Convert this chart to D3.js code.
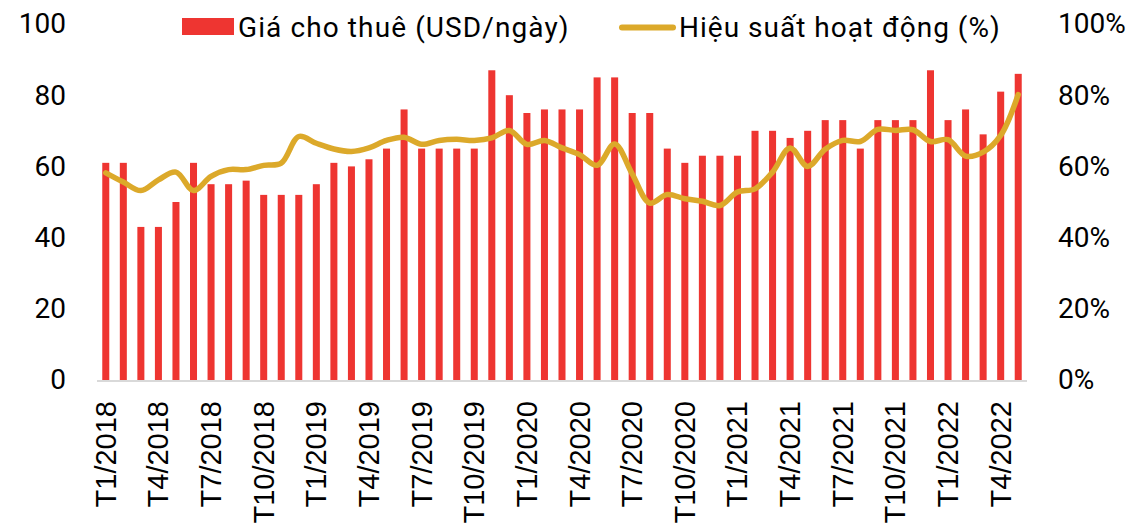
<!DOCTYPE html>
<html lang="vi">

<head>
  <meta charset="UTF-8">
  <title>Giá cho thuê và hiệu suất hoạt động</title>
  <script src="https://d3js.org/d3.v7.min.js"></script>
  <style>
    body {
      margin: 0;
      background: #fff;
    }

    .axisText {
      font-family: "Liberation Sans", Arial, sans-serif;
      fill: #000;
    }

    .valText {
      font-family: Roboto, "Open Sans", sans-serif;
      fill: #000;
    }
  </style>
</head>

<body>
  <div class="chartContainer"></div>

  <script>
    // các tháng (T1/2018 -> T5/2022)
    const months = [
      'T1/2018', 'T2/2018', 'T3/2018', 'T4/2018', 'T5/2018', 'T6/2018', 'T7/2018', 'T8/2018', 'T9/2018', 'T10/2018', 'T11/2018', 'T12/2018',
      'T1/2019', 'T2/2019', 'T3/2019', 'T4/2019', 'T5/2019', 'T6/2019', 'T7/2019', 'T8/2019', 'T9/2019', 'T10/2019', 'T11/2019', 'T12/2019',
      'T1/2020', 'T2/2020', 'T3/2020', 'T4/2020', 'T5/2020', 'T6/2020', 'T7/2020', 'T8/2020', 'T9/2020', 'T10/2020', 'T11/2020', 'T12/2020',
      'T1/2021', 'T2/2021', 'T3/2021', 'T4/2021', 'T5/2021', 'T6/2021', 'T7/2021', 'T8/2021', 'T9/2021', 'T10/2021', 'T11/2021', 'T12/2021',
      'T1/2022', 'T2/2022', 'T3/2022', 'T4/2022', 'T5/2022'
    ]

    // Giá cho thuê (USD/ngày)
    const rates = [
      61, 61, 43, 43, 50, 61, 55, 55, 56, 52, 52, 52,
      55, 61, 60, 62, 65, 76, 65, 65, 65, 65, 87, 80,
      75, 76, 76, 76, 85, 85, 75, 75, 65, 61, 63, 63,
      63, 70, 70, 68, 70, 73, 73, 65, 73, 73, 73, 87,
      73, 76, 69, 81, 86
    ]

    // Hiệu suất hoạt động (%)
    const utilization = [
      58.2, 55.6, 53.2, 56.2, 58.4, 53.2, 57.2, 59.1, 59.1, 60.3, 60.9, 68.4,
      66.5, 64.9, 64.2, 65.2, 67.3, 68.2, 66.2, 67.3, 67.6, 67.3, 68.0, 70.1,
      66.2, 67.3, 65.2, 63.3, 60.3, 66.3, 57.9, 49.7, 52.1, 50.9, 50.2, 49.0,
      52.8, 53.7, 58.4, 65.2, 60.0, 64.8, 67.3, 67.0, 70.4, 70.1, 70.3, 67.0,
      67.5, 62.9, 64.0, 68.7, 80.2
    ]

    const tickMonths = ['T1/2018', 'T4/2018', 'T7/2018', 'T10/2018', 'T1/2019', 'T4/2019', 'T7/2019', 'T10/2019',
      'T1/2020', 'T4/2020', 'T7/2020', 'T10/2020', 'T1/2021', 'T4/2021', 'T7/2021', 'T10/2021', 'T1/2022', 'T4/2022']
    const leftTicks = [0, 20, 40, 60, 80, 100]
    const rightTicks = [0, 20, 40, 60, 80, 100]
    const legendNames = ['Giá cho thuê (USD/ngày)', 'Hiệu suất hoạt động (%)']

    const width = 1135,
      height = 525
    const barColor = '#ee3531',
      lineColor = '#dca92a'

    const svg = d3.select('.chartContainer')
      .append('svg')
      .attr('width', width)
      .attr('height', height)

    const x = d3.scaleBand()
      .domain(months)
      .range([97, 1027])
      .paddingInner(0.6)
      .paddingOuter(0.3)

    const y = d3.scaleLinear().domain([0, 100]).range([380, 24])
    const y2 = d3.scaleLinear().domain([0, 100]).range([380, 24])

    // cột
    svg.append('g')
      .selectAll('rect')
      .data(rates)
      .join('rect')
      .attr('x', (d, i) => x(months[i]))
      .attr('y', d => y(d))
      .attr('width', x.bandwidth())
      .attr('height', d => y(0) - y(d))
      .attr('fill', barColor)

    // trục đáy
    svg.append('line')
      .attr('x1', x.range()[0])
      .attr('x2', x.range()[1])
      .attr('y1', y(0) + 1)
      .attr('y2', y(0) + 1)
      .attr('stroke', '#d9d9d9')
      .attr('stroke-width', 2)

    // đường hiệu suất
    const line = d3.line()
      .x((d, i) => x(months[i]) + x.bandwidth() / 2)
      .y(d => y2(d))
      .curve(d3.curveCatmullRom.alpha(0.5))

    svg.append('path')
      .datum(utilization)
      .attr('d', line)
      .attr('fill', 'none')
      .attr('stroke', lineColor)
      .attr('stroke-width', 5.5)
      .attr('stroke-linejoin', 'round')
      .attr('stroke-linecap', 'round')

    // trục trái
    const axisL = svg.append('g')
      .attr('transform', 'translate(66,0)')
      .call(d3.axisLeft(y).tickValues(leftTicks).tickSize(0).tickPadding(0))
    axisL.select('.domain').remove()
    axisL.selectAll('text')
      .attr('class', 'valText')
      .style('font-size', '28px')

    // trục phải
    const axisR = svg.append('g')
      .attr('transform', 'translate(1058,0)')
      .call(d3.axisRight(y2).tickValues(rightTicks).tickFormat(d => d + '%').tickSize(0).tickPadding(0))
    axisR.select('.domain').remove()
    axisR.selectAll('text')
      .attr('class', 'valText')
      .style('font-size', '28px')

    // trục x, chữ xoay dọc
    const axisB = svg.append('g')
      .attr('transform', `translate(0,${y(0)})`)
      .call(d3.axisBottom(x).tickValues(tickMonths).tickSize(0))
    axisB.select('.domain').remove()
    axisB.selectAll('text')
      .attr('class', 'axisText')
      .style('font-size', '29px')
      .attr('transform', 'rotate(-90)')
      .attr('text-anchor', 'end')
      .attr('dominant-baseline', 'central')
      .attr('x', -21)
      .attr('y', 0)
      .attr('dy', null)

    // chú thích
    const legend = svg.append('g')
    legend.append('rect')
      .attr('x', 182).attr('y', 18)
      .attr('width', 52).attr('height', 17)
      .attr('fill', barColor)
    legend.append('text')
      .attr('class', 'valText')
      .attr('x', 238).attr('y', 37)
      .style('font-size', '28px')
      .style('letter-spacing', '1.1px')
      .text(legendNames[0])
    legend.append('line')
      .attr('x1', 622).attr('x2', 673)
      .attr('y1', 27.5).attr('y2', 27.5)
      .attr('stroke', lineColor)
      .attr('stroke-width', 6)
      .attr('stroke-linecap', 'round')
    legend.append('text')
      .attr('class', 'valText')
      .attr('x', 679).attr('y', 37)
      .style('font-size', '28px')
      .style('letter-spacing', '1px')
      .text(legendNames[1])
  </script>
</body>

</html>
